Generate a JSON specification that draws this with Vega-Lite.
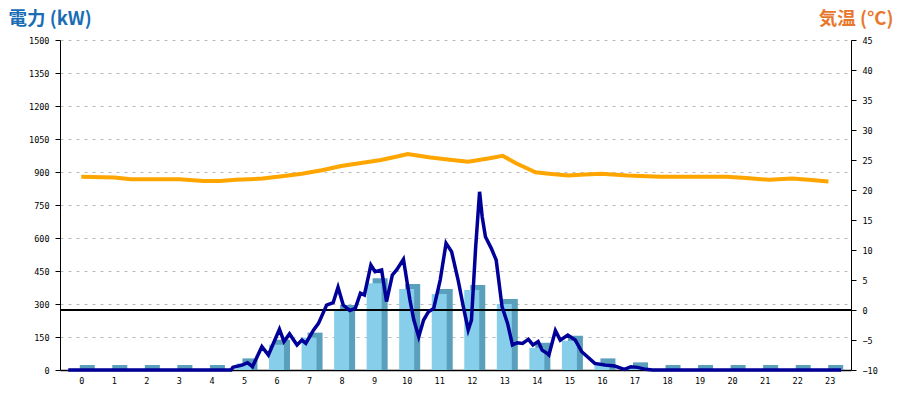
{
  "$schema": "https://vega.github.io/schema/vega-lite/v6.json",
  "width": 791,
  "height": 330,
  "autosize": "none",
  "padding": {"left": 60, "top": 40, "right": 49, "bottom": 30},
  "background": "white",
  "view": {"stroke": null},
  "config": {
    "axis": {
      "labelFont": "DejaVu Sans Mono",
      "labelFontSize": 8.5,
      "labelColor": "black",
      "domainColor": "black",
      "tickColor": "black",
      "format": "d"
    }
  },
  "datasets": {
    "hourly": [
      {"t": 0, "kw": 0}, {"t": 1, "kw": 0}, {"t": 2, "kw": 0}, {"t": 3, "kw": 0},
      {"t": 4, "kw": 0}, {"t": 5, "kw": 30}, {"t": 6, "kw": 115}, {"t": 7, "kw": 147},
      {"t": 8, "kw": 273}, {"t": 9, "kw": 394}, {"t": 10, "kw": 368}, {"t": 11, "kw": 345},
      {"t": 12, "kw": 364}, {"t": 13, "kw": 300}, {"t": 14, "kw": 101}, {"t": 15, "kw": 133},
      {"t": 16, "kw": 30}, {"t": 17, "kw": 12}, {"t": 18, "kw": 0}, {"t": 19, "kw": 0},
      {"t": 20, "kw": 0}, {"t": 21, "kw": 0}, {"t": 22, "kw": 0}, {"t": 23, "kw": 0}
    ],
    "power": [
      {"t": -0.4, "kw": 0}, {"t": 4.6, "kw": 0}, {"t": 4.66, "kw": 12}, {"t": 4.96, "kw": 23},
      {"t": 5.11, "kw": 33}, {"t": 5.26, "kw": 15}, {"t": 5.55, "kw": 106}, {"t": 5.75, "kw": 68},
      {"t": 6.09, "kw": 185}, {"t": 6.23, "kw": 129}, {"t": 6.4, "kw": 164}, {"t": 6.63, "kw": 114},
      {"t": 6.78, "kw": 136}, {"t": 6.9, "kw": 121}, {"t": 7.14, "kw": 182}, {"t": 7.29, "kw": 212},
      {"t": 7.54, "kw": 295}, {"t": 7.74, "kw": 306}, {"t": 7.89, "kw": 376}, {"t": 8.05, "kw": 295},
      {"t": 8.25, "kw": 270}, {"t": 8.42, "kw": 280}, {"t": 8.58, "kw": 349}, {"t": 8.7, "kw": 341},
      {"t": 8.9, "kw": 477}, {"t": 9.03, "kw": 447}, {"t": 9.23, "kw": 455}, {"t": 9.38, "kw": 311},
      {"t": 9.56, "kw": 432}, {"t": 9.69, "kw": 455}, {"t": 9.9, "kw": 503}, {"t": 10.1, "kw": 318},
      {"t": 10.22, "kw": 227}, {"t": 10.37, "kw": 151}, {"t": 10.52, "kw": 227}, {"t": 10.67, "kw": 265},
      {"t": 10.83, "kw": 280}, {"t": 11.03, "kw": 409}, {"t": 11.21, "kw": 576}, {"t": 11.38, "kw": 538},
      {"t": 11.58, "kw": 409}, {"t": 11.74, "kw": 288}, {"t": 11.89, "kw": 182}, {"t": 11.99, "kw": 227},
      {"t": 12.12, "kw": 560}, {"t": 12.24, "kw": 810}, {"t": 12.32, "kw": 697}, {"t": 12.42, "kw": 606},
      {"t": 12.6, "kw": 553}, {"t": 12.75, "kw": 500}, {"t": 12.93, "kw": 288}, {"t": 13.1, "kw": 212},
      {"t": 13.25, "kw": 114}, {"t": 13.4, "kw": 124}, {"t": 13.56, "kw": 121}, {"t": 13.74, "kw": 139},
      {"t": 13.88, "kw": 114}, {"t": 14.04, "kw": 129}, {"t": 14.16, "kw": 91}, {"t": 14.31, "kw": 76},
      {"t": 14.37, "kw": 68}, {"t": 14.57, "kw": 179}, {"t": 14.72, "kw": 136}, {"t": 14.95, "kw": 159},
      {"t": 15.18, "kw": 136}, {"t": 15.38, "kw": 83}, {"t": 15.78, "kw": 30}, {"t": 16.09, "kw": 23},
      {"t": 16.39, "kw": 18}, {"t": 16.69, "kw": 3}, {"t": 16.89, "kw": 15}, {"t": 17.09, "kw": 12},
      {"t": 17.35, "kw": 3}, {"t": 17.55, "kw": 0}, {"t": 23.35, "kw": 0}
    ],
    "temp": [
      {"t": 0.0, "c": 22.2}, {"t": 1.02, "c": 22.1}, {"t": 1.53, "c": 21.8}, {"t": 3.02, "c": 21.8},
      {"t": 3.75, "c": 21.5}, {"t": 4.26, "c": 21.5}, {"t": 4.75, "c": 21.7}, {"t": 5.57, "c": 21.9},
      {"t": 6.17, "c": 22.3}, {"t": 6.78, "c": 22.7}, {"t": 7.39, "c": 23.3}, {"t": 7.99, "c": 24.0},
      {"t": 8.6, "c": 24.5}, {"t": 9.21, "c": 25.0}, {"t": 9.81, "c": 25.7}, {"t": 10.03, "c": 26.0},
      {"t": 10.73, "c": 25.4}, {"t": 11.33, "c": 25.05}, {"t": 11.89, "c": 24.7}, {"t": 12.55, "c": 25.3},
      {"t": 12.95, "c": 25.7}, {"t": 13.36, "c": 24.45}, {"t": 13.96, "c": 22.95}, {"t": 14.37, "c": 22.7},
      {"t": 14.97, "c": 22.4}, {"t": 15.48, "c": 22.6}, {"t": 15.98, "c": 22.7}, {"t": 16.79, "c": 22.4},
      {"t": 17.8, "c": 22.2}, {"t": 19.83, "c": 22.2}, {"t": 20.43, "c": 22.0}, {"t": 21.14, "c": 21.7},
      {"t": 21.85, "c": 21.9}, {"t": 22.35, "c": 21.7}, {"t": 22.96, "c": 21.4}
    ]
  },
  "encoding": {
    "x": {
      "field": "t", "type": "quantitative",
      "scale": {"domain": [-0.5, 23.5], "nice": false, "zero": false},
      "axis": {
        "title": null, "values": [0,1,2,3,4,5,6,7,8,9,10,11,12,13,14,15,16,17,18,19,20,21,22,23],
        "ticks": false, "grid": false, "labelPadding": 6, "domainWidth": 1.5,
        "labelOverlap": false
      }
    }
  },
  "resolve": {"scale": {"y": "independent"}},
  "layer": [
    {
      "data": {"name": "hourly"},
      "encoding": {
        "y": {
          "field": "kw", "type": "quantitative",
          "scale": {"domain": [0, 1500], "nice": false},
          "axis": {
            "orient": "left",
            "values": [0,150,300,450,600,750,900,1050,1200,1350,1500],
            "grid": true, "gridDash": [3, 5], "gridColor": "#bbbbbb",
            "tickSize": 5, "labelPadding": 6, "labelOverlap": false,
            "title": "電力 (kW)", "titleAngle": 0, "titleAlign": "left", "titleBaseline": "middle",
            "titleX": -52, "titleY": -22, "titleFont": "Noto Sans CJK JP",
            "titleFontSize": 18.5, "titleFontWeight": "bold", "titleColor": "#1a6db5"
          }
        }
      },
      "layer": [
        {
          "mark": {"type": "bar", "width": 15, "xOffset": 6, "yOffset": -5, "y2Offset": 0, "color": "#5a9fbb"},
          "encoding": {"y2": {"datum": 0}}
        },
        {
          "mark": {"type": "bar", "width": 15, "color": "#87ceeb"},
          "encoding": {"y2": {"datum": 0}}
        }
      ]
    },
    {
      "data": {"name": "temp"},
      "encoding": {
        "y": {
          "field": "c", "type": "quantitative",
          "scale": {"domain": [-10, 45], "nice": false, "zero": false},
          "axis": {
            "orient": "right",
            "values": [-10,-5,0,5,10,15,20,25,30,35,40,45],
            "grid": false, "tickSize": 5, "labelPadding": 6, "labelOverlap": false,
            "title": "気温 (°C)", "titleAngle": 0, "titleAlign": "right", "titleBaseline": "middle",
            "titleX": 42, "titleY": -22, "titleFont": "Noto Sans CJK JP",
            "titleFontSize": 18.5, "titleFontWeight": "bold", "titleColor": "#e8772e"
          }
        }
      },
      "layer": [
        {
          "mark": {"type": "rule", "color": "black", "strokeWidth": 1},
          "encoding": {"x": null, "y": {"datum": 0}}
        },
        {
          "mark": {"type": "line", "color": "#ffa500", "strokeWidth": 4}
        }
      ]
    },
    {
      "data": {"name": "power"},
      "mark": {"type": "line", "color": "#000099", "strokeWidth": 3.5},
      "encoding": {
        "y": {
          "field": "kw", "type": "quantitative",
          "scale": {"domain": [0, 1500], "nice": false},
          "axis": null
        }
      }
    }
  ]
}
